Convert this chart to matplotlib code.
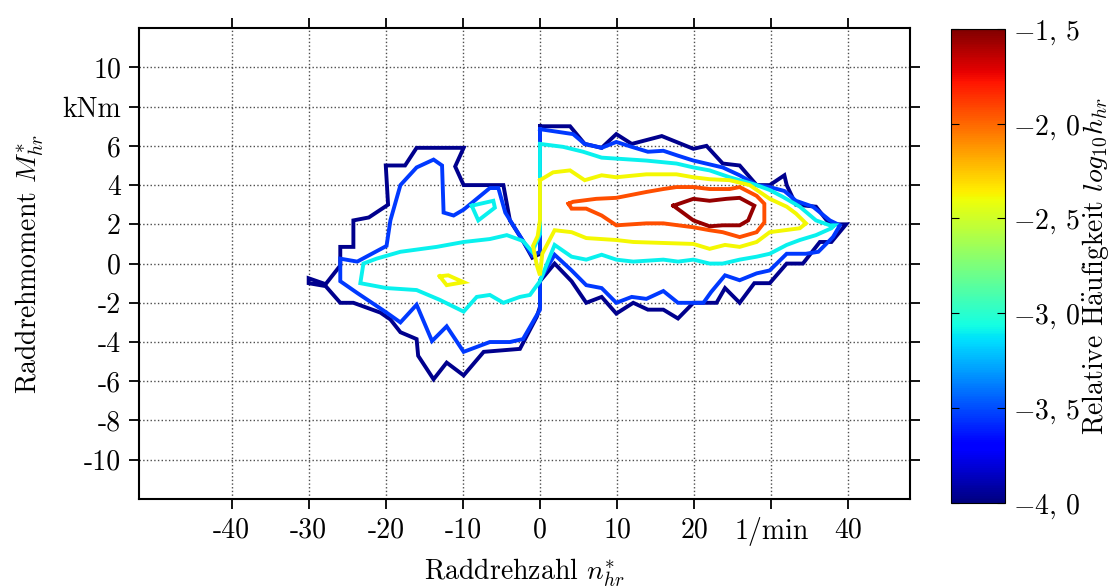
import numpy as np
import matplotlib.pyplot as plt
import matplotlib as mpl

plt.rcParams['font.family'] = 'serif'
plt.rcParams['font.serif'] = ['cmr10']
plt.rcParams['mathtext.fontset'] = 'cm'
plt.rcParams['axes.unicode_minus'] = False
plt.rcParams['axes.formatter.use_mathtext'] = True

# contour levels (log10 of relative frequency) and the traced iso-lines (n in 1/min, M in kNm)
lev_outer = -3.97
outer_n = [0, 3.9, 5.8, 8.0, 9.9, 11.9, 15.8, 19.9, 21.6, 23.7, 25.9, 28.1, 29.8, 31.7, 32.0, 33.2,
           35.8, 37.6, 39.7, 37.8, 36.3, 34.1, 32.0, 29.8, 27.8, 25.9, 24.0, 22.9, 19.9, 17.9, 16.0,
           14.0, 12.1, 9.9, 8.0, 6.0, 4.1, 1.9, 0, 0, -0.4, -2.6, -7.3, -9.9, -12.1, -13.8, -15.8,
           -16.0, -18.1, -19.4, -20.7, -24.2, -25.9, -27.8, -30.0, -30.0, -27.8, -25.9, -25.9, -24.2,
           -24.2, -22.2, -19.7, -20.0, -17.5, -16.0, -9.9, -11.0, -9.9, -4.75, -3.9, -2.2, -1.0, 0, 0]
outer_m = [7.0, 7.0, 6.1, 5.9, 6.6, 6.1, 6.5, 5.85, 6.0, 5.1, 5.0, 4.0, 4.0, 4.5, 4.0, 3.0,
           2.9, 2.0, 2.0, 1.1, 1.1, 0.0, 0.0, -1.0, -1.0, -2.0, -1.25, -2.0, -2.0, -2.8, -2.35,
           -2.35, -2.0, -2.55, -1.7, -2.0, -0.9, 0.0, -0.9, -2.2, -2.7, -4.35, -4.5, -5.7, -5.05, -5.9, -4.7,
           -3.85, -3.5, -2.85, -2.5, -2.0, -2.0, -1.15, -1.0, -0.75, -1.05, -0.1, 0.85, 0.85,
           2.2, 2.35, 3.0, 5.0, 5.0, 5.9, 5.9, 4.95, 4.0, 4.0, 2.2, 1.15, 0.3, 0.5, 7.0]

lev_blue = -3.55
blue_n = [0, 4.3, 5.8, 8.0, 9.9, 11.9, 14.0, 16.0, 17.9, 19.9, 23.7, 25.9, 28.1, 29.8, 31.7, 33.2,
          35.4, 37.6, 38.9, 38.0, 36.1, 34.5, 32.0, 29.8, 28.1, 25.9, 24.0, 22.2, 21.2, 17.9, 16.0,
          13.8, 11.9, 9.9, 8.0, 6.0, 4.1, 1.9, 0, 0, -2.2, -3.9, -6.5, -9.9, -12.1, -14.0, -16.0,
          -18.1, -19.9, -23.7, -25.9, -25.9, -23.7, -19.9, -19.4, -18.1, -16.0, -13.8, -12.7, -12.5,
          -11.2, -9.9, -6.5, -5.4, -4.5, -2.2, -1.0, 0, 0]
blue_m = [6.85, 6.6, 6.1, 5.9, 6.2, 5.95, 5.7, 5.75, 5.5, 5.25, 4.9, 4.5, 4.0, 3.9, 3.7, 3.2,
          2.9, 2.2, 1.95, 1.35, 0.6, 0.5, 0.5, -0.35, -0.5, -0.85, -0.6, -1.45, -2.0, -2.0, -1.4,
          -1.8, -1.7, -2.0, -1.25, -1.1, -0.35, 0.45, -0.85, -2.35, -3.85, -4.0, -4.0, -4.5, -3.2, -3.95, -2.1,
          -3.0, -2.5, -1.5, -0.9, 0.25, 0.1, 0.9, 2.2, 4.0, 4.9, 5.3, 5.0, 2.6,
          2.45, 2.75, 3.85, 3.85, 2.6, 1.15, 0.4, 0.6, 6.85]

lev_cyan = -3.1
cyan_n = [0, 3.0, 5.6, 8.0, 9.9, 13.8, 17.7, 19.9, 22.0, 24.6, 28.1, 29.8, 31.5, 33.7, 35.8, 37.6,
          38.2, 37.8, 35.8, 33.7, 32.0, 29.8, 28.1, 25.9, 23.7, 22.0, 19.9, 17.9, 16.0, 12.1, 9.9,
          8.0, 6.0, 4.1, 1.9, 0, -1.3, -2.6, -4.75, -6.5, -8.2, -9.9, -13.0, -16.0, -19.9, -23.3,
          -22.9, -21.2, -18.1, -13.4, -9.9, -6.5, -4.3, -2.2, -1.0, 0, 0]
cyan_m = [6.1, 5.95, 5.7, 5.4, 5.35, 5.25, 5.1, 4.9, 4.75, 4.4, 4.0, 3.75, 3.4, 2.9, 2.2, 1.95,
          1.95, 1.8, 1.45, 1.2, 0.95, 0.5, 0.35, 0.2, 0.0, 0.0, 0.2, 0.1, 0.2, 0.1, 0.2,
          0.45, 0.2, 0.35, 0.95, -0.9, -1.6, -1.7, -2.0, -1.6, -1.7, -2.45, -1.85, -1.35, -1.25, -1.0,
          0.0, 0.25, 0.6, 0.85, 1.1, 1.25, 1.45, 1.15, 0.6, 1.5, 6.1]

cyan_isle_n = [-8.85, -6.05, -5.85, -8.0, -8.85]
cyan_isle_m = [2.95, 3.2, 2.85, 2.2, 2.95]

lev_yellow = -2.38
yellow_n = [0, 1.7, 3.9, 5.8, 8.0, 9.9, 13.8, 17.7, 19.9, 22.0, 24.6, 27.2, 29.8, 32.0, 33.2, 34.5,
            33.7, 29.8, 28.1, 25.9, 24.0, 22.0, 19.9, 16.0, 12.1, 9.9, 6.0, 4.1, 1.9, 0.3, 0,
            -0.4, -0.9, -0.3, 0, 0]
yellow_m = [4.25, 4.65, 4.75, 4.25, 4.5, 4.4, 4.55, 4.55, 4.4, 4.3, 4.25, 4.0, 3.3, 2.9, 2.55, 2.05,
            1.8, 1.6, 1.1, 0.85, 0.95, 0.75, 1.0, 1.05, 1.1, 1.2, 1.3, 1.6, 1.7, 0.5, -0.6,
            -0.1, 0.9, 1.4, 2.2, 4.25]

yellow_isle_n = [-13.0, -11.9, -9.9, -12.1, -13.0]
yellow_isle_m = [-0.65, -0.6, -0.95, -1.1, -0.65]

lev_orange = -1.93
orange_n = [3.7, 4.3, 7.3, 9.9, 13.8, 16.0, 17.7, 19.9, 22.0, 24.6, 25.9, 28.1, 29.1, 29.1, 28.1,
            25.9, 23.7, 22.0, 19.9, 16.0, 13.8, 9.9, 8.0, 6.0, 4.1, 3.7]
orange_m = [3.05, 3.15, 3.3, 3.35, 3.65, 3.8, 3.9, 3.9, 3.8, 3.8, 3.9, 3.45, 3.05, 2.1, 1.6,
            1.35, 1.6, 1.7, 1.85, 2.05, 2.05, 1.95, 2.45, 2.8, 2.8, 3.05]

lev_red = -1.55
red_n = [17.3, 19.9, 22.0, 24.2, 25.9, 27.8, 27.0, 25.9, 23.7, 22.0, 19.9, 17.3]
red_m = [2.95, 3.3, 3.2, 3.3, 3.35, 2.95, 2.2, 1.95, 1.95, 1.9, 2.2, 2.95]

x_ticks = [-40, -30, -20, -10, 0, 10, 20, 30, 40]
x_labels = ['-40', '-30', '-20', '-10', '0', '10', '20', '1/min', '40']
y_ticks = [-10, -8, -6, -4, -2, 0, 2, 4, 6, 8, 10]
y_labels = ['-10', '-8', '-6', '-4', '-2', '0', '2', '4', '6', 'kNm', '10']
cb_ticks = [-4.0, -3.5, -3.0, -2.5, -2.0, -1.5]
cb_labels = [r'$-4,\,0$', r'$-3,\,5$', r'$-3,\,0$', r'$-2,\,5$', r'$-2,\,0$', r'$-1,\,5$']

cmap = plt.cm.jet
norm = mpl.colors.Normalize(vmin=-4.0, vmax=-1.5)

fig = plt.figure(figsize=(11.15, 5.87), dpi=100)
ax = fig.add_axes([0.1247, 0.150, 0.6915, 0.802])
cax = fig.add_axes([0.853, 0.143, 0.0484, 0.808])

lines = [(lev_outer, outer_n, outer_m), (lev_blue, blue_n, blue_m),
         (lev_cyan, cyan_n, cyan_m), (lev_cyan, cyan_isle_n, cyan_isle_m),
         (lev_yellow, yellow_n, yellow_m), (lev_yellow, yellow_isle_n, yellow_isle_m),
         (lev_orange, orange_n, orange_m), (lev_red, red_n, red_m)]
for lev, n, m in lines:
    ax.plot(n, m, color=cmap(norm(lev)), lw=2.8, solid_joinstyle='miter', zorder=3)

ax.set_xlim(-52, 48)
ax.set_ylim(-12, 12)
ax.set_xticks(x_ticks)
ax.set_xticklabels(x_labels)
ax.set_yticks(y_ticks)
ax.set_yticklabels(y_labels)
ax.tick_params(direction='out', length=7, width=1.3, top=True, right=True, labelsize=20, pad=6)
ax.grid(True, ls=':', color='0.3', lw=1.0)
for s in ax.spines.values():
    s.set_linewidth(1.5)

ax.set_xlabel(r'Raddrehzahl $n^{*}_{hr}$', fontsize=20, labelpad=8)
ax.set_ylabel(r'Raddrehmoment $M^{*}_{hr}$', fontsize=20, labelpad=12)

sm = mpl.cm.ScalarMappable(norm=norm, cmap=cmap)
cb = fig.colorbar(sm, cax=cax)
cb.set_ticks(cb_ticks)
cb.set_ticklabels(cb_labels)
cb.ax.tick_params(direction='in', left=True, right=True, length=6, width=0.8, labelsize=20, pad=6)
cb.outline.set_linewidth(0.8)
cb.set_label(r'Relative H$\ddot{\mathrm{a}}$ufigkeit $log_{10}h_{hr}$', fontsize=20, labelpad=0)

fig.savefig('out.png', dpi=100)
